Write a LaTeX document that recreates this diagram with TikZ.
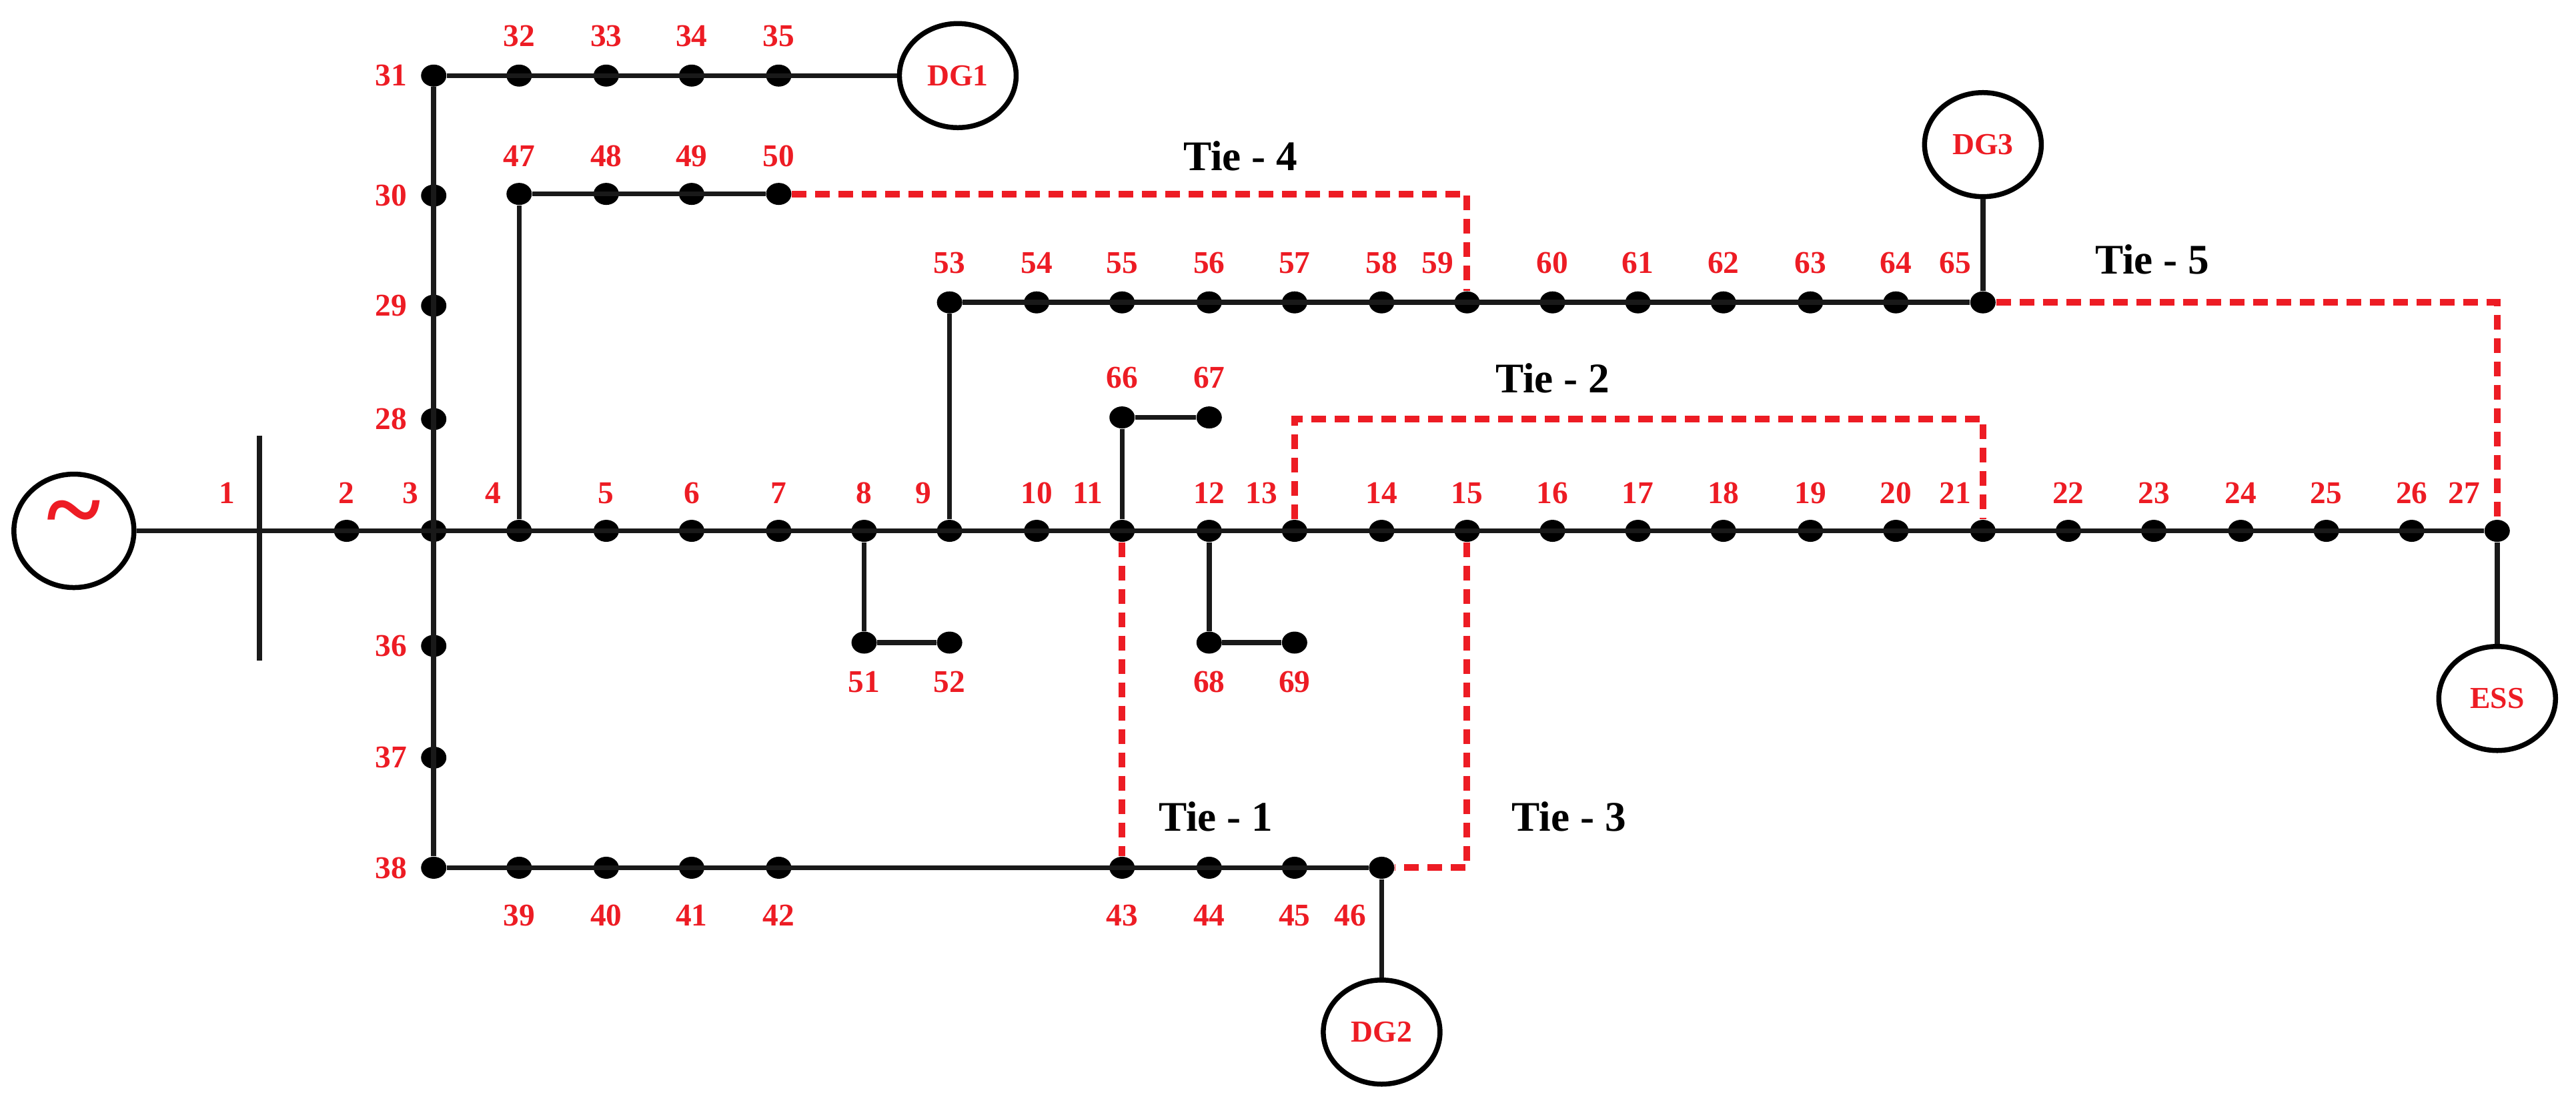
\documentclass[tikz,border=0pt]{standalone}
\usepackage{fontspec}
\setmainfont{Liberation Serif}
\usetikzlibrary{positioning,shapes.geometric}
\definecolor{busred}{RGB}{237,28,36}
\tikzset{
  bus/.style={ellipse, fill=black, inner sep=0pt, minimum width=3.8mm, minimum height=3.3mm},
  num/.style={text=busred, font=\fontsize{13.5}{13.5}\selectfont\bfseries, inner sep=1pt},
  line/.style={line width=0.75mm, black!90},
  tie/.style={line width=1mm, busred, dash pattern=on 2.2mm off 1.3mm},
  tielab/.style={font=\fontsize{18}{18}\selectfont\bfseries},
  unit/.style={ellipse, draw, line width=0.75mm, minimum width=17.5mm, minimum height=15.6mm, inner sep=0pt, text=busred, font=\fontsize{13}{13}\selectfont\bfseries}
}
\begin{document}
\begin{tikzpicture}[x=0.2463mm, y=-0.2463mm]
\useasboundingbox (0,0) rectangle (1568,676);

% main feeder
\foreach \n/\x/\lx in {2/211/211, 3/264/250, 4/316/300, 5/369/369, 6/421/421, 7/474/474,
  8/526/526, 9/578/562, 10/631/631, 11/683/662, 12/736/736, 13/788/768, 14/841/841,
  15/893/893, 16/945/945, 17/997/997, 18/1049/1049, 19/1102/1102, 20/1154/1154,
  21/1207/1190, 22/1259/1259, 23/1311/1311, 24/1364/1364, 25/1416/1416, 26/1468/1468, 27/1520/1500}
  {\node[bus] (b\n) at (\x,323) {};
   \node[num] (l\n) at (\lx,300) {\n};}
\node[num] (l1) at (138,300) {1};

% lateral at bus 3
\foreach \n/\y in {28/255, 29/186, 30/119, 31/46, 36/393, 37/461, 38/528}
  {\node[bus] (b\n) at (264,\y) {};
   \node[num] (l\n) at (238,\y) {\n};}
\foreach \n/\x in {32/316, 33/369, 34/421, 35/474}
  {\node[bus] (b\n) at (\x,46) {};
   \node[num] (l\n) at (\x,22) {\n};}
\foreach \n/\x in {47/316, 48/369, 49/421, 50/474}
  {\node[bus] (b\n) at (\x,118) {};
   \node[num] (l\n) at (\x,95) {\n};}
\foreach \n/\x/\lx in {53/578/578, 54/631/631, 55/683/683, 56/736/736, 57/788/788, 58/841/841,
  59/893/875, 60/945/945, 61/997/997, 62/1049/1049, 63/1102/1102, 64/1154/1154, 65/1207/1190}
  {\node[bus] (b\n) at (\x,184) {};
   \node[num] (l\n) at (\lx,160) {\n};}
\foreach \n/\x in {66/683, 67/736}
  {\node[bus] (b\n) at (\x,254) {};
   \node[num] (l\n) at (\x,230) {\n};}
\foreach \n/\x in {51/526, 52/578, 68/736, 69/788}
  {\node[bus] (b\n) at (\x,391) {};
   \node[num] (l\n) at (\x,415) {\n};}
\foreach \n/\x/\lx in {39/316/316, 40/369/369, 41/421/421, 42/474/474, 43/683/683,
  44/736/736, 45/788/788, 46/841/822}
  {\node[bus] (b\n) at (\x,528) {};
   \node[num] (l\n) at (\lx,557) {\n};}

% sources and units
\node[unit, minimum width=18mm, minimum height=17mm] (src) at (45,323) {};
\node[text=busred, font=\fontsize{44}{44}\selectfont] (tilde) at (45,318) {\textbf{\~{}}};
\node[unit] (dg1) at (583,46) {DG1};
\node[unit] (dg3) at (1207,88) {DG3};
\node[unit] (dg2) at (841,628) {DG2};
\node[unit] (ess) at (1520,425) {ESS};
\coordinate (bt) at (158,265);
\coordinate (bb) at (158,402);

% lines
\draw[line] (bt) -- (bb);
\draw[line] (src) -- (b27);
\draw[line] (b31) -- (b38) -- (b46) -- (dg2);
\draw[line] (b31) -- (dg1);
\draw[line] (b4) -- (b47) -- (b50);
\draw[line] (b9) -- (b53) -- (b65) -- (dg3);
\draw[line] (b11) -- (b66) -- (b67);
\draw[line] (b8) -- (b51) -- (b52);
\draw[line] (b12) -- (b68) -- (b69);
\draw[line] (b27) -- (ess);

% tie switches
\coordinate (t2) at (1207,255);
\draw[tie] (b50) -| (b59);
\draw[tie] (b65) -| (b27);
\draw[tie] (b13) |- (t2) -- (b21);
\draw[tie] (b11) -- (b43);
\draw[tie] (b15) |- (b46);
\node[tielab] (tie4) at (755,95) {Tie - 4};
\node[tielab] (tie5) at (1310,158) {Tie - 5};
\node[tielab] (tie2) at (945,230) {Tie - 2};
\node[tielab] (tie1) at (740,497) {Tie - 1};
\node[tielab] (tie3) at (955,497) {Tie - 3};
\end{tikzpicture}
\end{document}
